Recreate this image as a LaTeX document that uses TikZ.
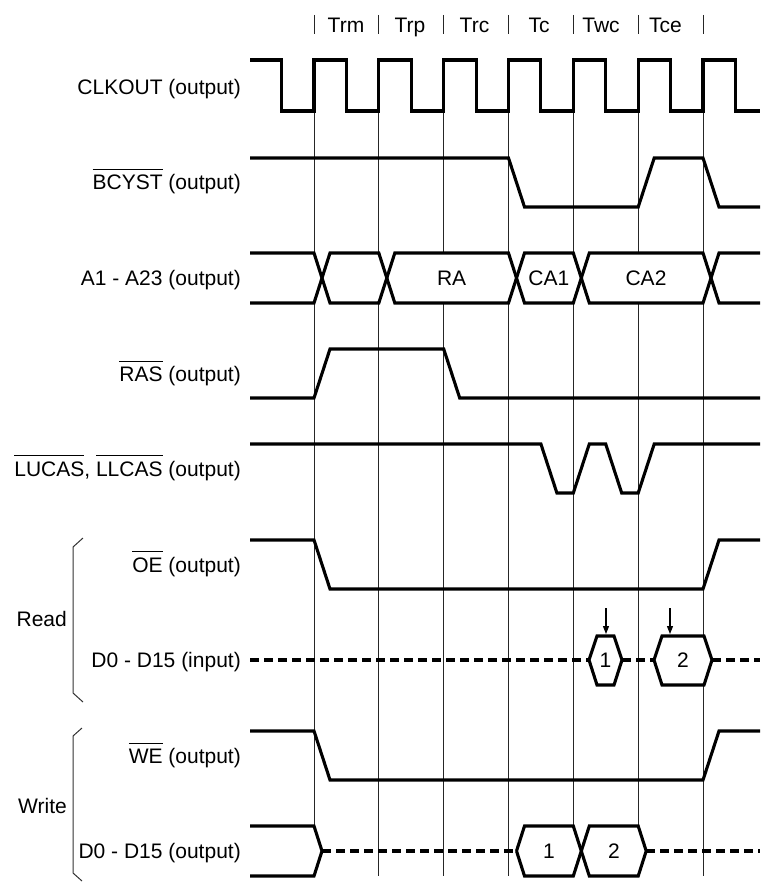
\documentclass[tikz,border=0pt]{standalone}
\usepackage{fontspec}
\setmainfont{Liberation Sans}
\usetikzlibrary{arrows.meta}
\newcommand{\ovl}[1]{\vbox{\hrule height 1pt\kern 5pt\hbox{#1}}}
\begin{document}
\begin{tikzpicture}[x=1pt,y=-1pt,
  wave/.style={line width=3.1pt, line join=miter},
  dwave/.style={wave, dash pattern=on 9pt off 5pt},
  busfill/.style={fill=white},
  gridln/.style={line width=1pt, black!85},
  brk/.style={line width=1pt, black!80},
  txt/.style={inner sep=0pt, font=\fontsize{21}{25}\selectfont},
  lbl/.style={txt, anchor=base east},
  mid/.style={txt, anchor=base},
  arr/.style={line width=1.1pt, -{Triangle[length=8pt,width=6pt]}}]
\useasboundingbox (0,0) rectangle (760,882);
% grid lines and top ticks
\foreach \x in {314,378.8,443.7,508.5,573.3,638.2,703} {
  \draw[gridln] (\x,60) -- (\x,876);
  \draw[gridln] (\x,15) -- (\x,34);
}
% period labels
\node[mid] (trm) at (346,33) {Trm};
\node[mid] (trp) at (410,33) {Trp};
\node[mid] (trc) at (474.5,33) {Trc};
\node[mid] (tc)  at (539,33) {Tc};
\node[mid] (twc) at (601,33) {Twc};
\node[mid] (tce) at (665.5,33) {Tce};
% signal labels
\node[lbl] (lclk) at (241,94.5) {CLKOUT (output)};
\node[lbl] (lbcy) at (241,190) {\ovl{BCYST} (output)};
\node[lbl] (ladr) at (241,285.5) {A1 - A23 (output)};
\node[lbl] (lras) at (241,381.5) {\ovl{RAS} (output)};
\node[lbl] (lcas) at (241,476) {\ovl{LUCAS}, \ovl{LLCAS} (output)};
\node[lbl] (loe)  at (241,572) {\ovl{OE} (output)};
\node[lbl] (ldin) at (241,667.5) {D0 - D15 (input)};
\node[lbl] (lwe)  at (241,763) {\ovl{WE} (output)};
\node[lbl] (ldout) at (241,858.5) {D0 - D15 (output)};
\node[lbl] (lread) at (67,626) {Read};
\node[lbl] (lwrite) at (67,813) {Write};
% brackets
\draw[brk] (83,538) -- (73,547) -- (73,693) -- (83,702);
\draw[brk] (82,728) -- (73,736) -- (73,873) -- (82,881);
% CLKOUT
\draw[wave] (250,60)--(281.6,60)--(281.6,111)--(314,111)--(314,60)--(346.4,60)--(346.4,111)--(378.8,111)--(378.8,60)--(411.2,60)--(411.2,111)--(443.7,111)--(443.7,60)--(476.1,60)--(476.1,111)--(508.5,111)--(508.5,60)--(540.9,60)--(540.9,111)--(573.3,111)--(573.3,60)--(605.7,60)--(605.7,111)--(638.2,111)--(638.2,60)--(670.6,60)--(670.6,111)--(703,111)--(703,60)--(735.4,60)--(735.4,111)--(760,111);
% BCYST
\draw[wave] (250,158)--(508.5,158)--(524.5,207)--(638.2,207)--(654.2,158)--(703,158)--(719,207)--(760,207);
% A1 - A23
\fill[busfill] (250,253)--(314,253)--(322,278)--(314,303)--(250,303)--cycle;
\fill[busfill] (322,278)--(330,253)--(378.8,253)--(386.8,278)--(378.8,303)--(330,303)--cycle;
\fill[busfill] (386.8,278)--(394.8,253)--(508.5,253)--(516.5,278)--(508.5,303)--(394.8,303)--cycle;
\fill[busfill] (516.5,278)--(524.5,253)--(573.3,253)--(581.3,278)--(573.3,303)--(524.5,303)--cycle;
\fill[busfill] (581.3,278)--(589.3,253)--(703,253)--(711,278)--(703,303)--(589.3,303)--cycle;
\fill[busfill] (711,278)--(719,253)--(760,253)--(760,303)--(719,303)--cycle;
\draw[wave] (250,253)--(314,253)--(330,303)--(378.8,303)--(394.8,253)--(508.5,253)--(524.5,303)--(573.3,303)--(589.3,253)--(703,253)--(719,303)--(760,303);
\draw[wave] (250,303)--(314,303)--(330,253)--(378.8,253)--(394.8,303)--(508.5,303)--(524.5,253)--(573.3,253)--(589.3,303)--(703,303)--(719,253)--(760,253);
\node[mid] (ra)  at (451.6,285.5) {RA};
\node[mid] (ca1) at (548.9,285.5) {CA1};
\node[mid] (ca2) at (646,285.5) {CA2};
% RAS
\draw[wave] (250,398)--(314,398)--(330,349)--(443.7,349)--(459.7,398)--(760,398);
% LUCAS / LLCAS
\draw[wave] (250,444)--(540.9,444)--(556.9,493)--(573.3,493)--(589.3,444)--(605.7,444)--(621.7,493)--(638.2,493)--(654.2,444)--(760,444);
% OE
\draw[wave] (250,540)--(314,540)--(330,589)--(703,589)--(719,540)--(760,540);
% D0 - D15 input
\draw[dwave] (250,660)--(589,660);
\draw[wave, busfill] (589,660)--(597,636)--(614,636)--(622,660)--(614,685)--(597,685)--cycle;
\draw[dwave] (622,660)--(654,660);
\draw[wave, busfill] (654,660)--(662,636)--(704,636)--(712,660)--(704,685)--(662,685)--cycle;
\draw[dwave] (712,660)--(760,660);
\node[mid] (din1) at (605.5,667.5) {1};
\node[mid] (din2) at (683,667.5) {2};
\coordinate (a1s) at (606,608);
\coordinate (a1e) at (606,634);
\coordinate (a2s) at (670,608);
\coordinate (a2e) at (670,634);
\draw[arr] (a1s) -- (a1e);
\draw[arr] (a2s) -- (a2e);
% WE
\draw[wave] (250,731)--(314,731)--(330,780)--(703,780)--(719,731)--(760,731);
% D0 - D15 output
\fill[busfill] (250,826)--(314,826)--(322,851)--(314,876)--(250,876)--cycle;
\fill[busfill] (516.5,851)--(524.5,826)--(573.3,826)--(581.3,851)--(573.3,876)--(524.5,876)--cycle;
\fill[busfill] (581.3,851)--(589.3,826)--(638.2,826)--(646.2,851)--(638.2,876)--(589.3,876)--cycle;
\draw[wave] (250,826)--(314,826)--(322,851)--(314,876)--(250,876);
\draw[dwave] (322,851)--(516.5,851);
\draw[wave] (516.5,851)--(524.5,826)--(573.3,826)--(589.3,876)--(638.2,876)--(646.2,851);
\draw[wave] (516.5,851)--(524.5,876)--(573.3,876)--(589.3,826)--(638.2,826)--(646.2,851);
\draw[dwave] (646.2,851)--(760,851);
\node[mid] (dout1) at (549,858.5) {1};
\node[mid] (dout2) at (614,858.5) {2};
\end{tikzpicture}
\end{document}
